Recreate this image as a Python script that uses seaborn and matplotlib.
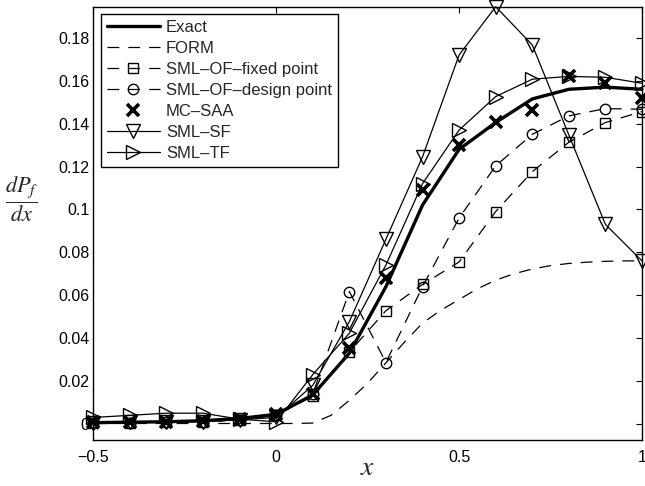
import numpy as np
import pandas as pd
import matplotlib
matplotlib.use("Agg")
import matplotlib.pyplot as plt
import seaborn as sns

# ---- data ----
x_pts = [-0.5, -0.4, -0.3, -0.2, -0.1, 0.0, 0.1, 0.2, 0.3, 0.4, 0.5, 0.6, 0.7, 0.8, 0.9, 1.0]
exact = [0.0006, 0.0008, 0.0010, 0.0015, 0.0025, 0.0045, 0.0135, 0.0330, 0.0640, 0.1020, 0.1280, 0.1405, 0.1515, 0.1560, 0.1570, 0.1560]
of_fixed = [0.0005, 0.0006, 0.0008, 0.0010, 0.0020, 0.0040, 0.0130, 0.0335, 0.0528, 0.0650, 0.0755, 0.0990, 0.1176, 0.1313, 0.1405, 0.1456]
of_design = [0.0005, 0.0006, 0.0008, 0.0010, 0.0020, 0.0040, 0.0140, 0.0617, 0.0286, 0.0640, 0.0960, 0.1203, 0.1350, 0.1436, 0.1470, 0.1467]
mc_saa = [0.0008, 0.0009, 0.0010, 0.0015, 0.0025, 0.0045, 0.0140, 0.0355, 0.0679, 0.1090, 0.1300, 0.1409, 0.1464, 0.1622, 0.1588, 0.1520]
sml_sf = [0.0006, 0.0007, 0.0008, 0.0010, 0.0020, 0.0030, 0.0180, 0.0477, 0.0861, 0.1245, 0.1720, 0.1945, 0.1767, 0.1347, 0.0930, 0.0760]
sml_tf = [0.0030, 0.0040, 0.0050, 0.0050, 0.0022, 0.0010, 0.0230, 0.0423, 0.0741, 0.1120, 0.1370, 0.1526, 0.1607, 0.1620, 0.1616, 0.1588]

x_form = [-0.5, -0.4, -0.3, -0.2, -0.1, 0.0, 0.05, 0.1, 0.15, 0.2, 0.25, 0.3, 0.35, 0.4, 0.45, 0.5,
          0.55, 0.6, 0.65, 0.7, 0.75, 0.8, 0.85, 0.9, 0.95, 1.0]
form = [0.0002, 0.0002, 0.0002, 0.0002, 0.0002, 0.0002, 0.0002, 0.0004, 0.0040, 0.0110, 0.0190, 0.0285,
        0.0380, 0.0470, 0.0530, 0.0580, 0.0630, 0.0670, 0.0700, 0.0722, 0.0738, 0.0748, 0.0754, 0.0758, 0.0760, 0.0760]

x_ticks = [-0.5, 0, 0.5, 1]
x_ticklabels = ["\u22120.5", "0", "0.5", "1"]
y_ticks = [0, 0.02, 0.04, 0.06, 0.08, 0.1, 0.12, 0.14, 0.16, 0.18]
y_ticklabels = ["0", "0.02", "0.04", "0.06", "0.08", "0.1", "0.12", "0.14", "0.16", "0.18"]

# ---- style ----
sns.set_style("white")
plt.rcParams["font.family"] = ["Liberation Sans", "DejaVu Sans"]
plt.rcParams["mathtext.fontset"] = "stix"
plt.rcParams["lines.scale_dashes"] = False

fig = plt.figure(figsize=(6.45, 4.86), dpi=100)
ax = fig.add_axes([93.3 / 645, 46 / 486, (642 - 93.3) / 645, (440 - 6.7) / 486])

dash = (0, (8.5, 6.5))
common = dict(ax=ax, color="k", clip_on=False, errorbar=None, sort=False)

sns.lineplot(x=x_pts, y=exact, lw=2.4, label="Exact", **common)
sns.lineplot(x=x_form, y=form, lw=0.9, linestyle=dash, label="FORM", **common)
sns.lineplot(x=x_pts, y=of_fixed, lw=0.9, linestyle=dash, marker="s", markersize=6.5,
             markerfacecolor="none", markeredgecolor="k", markeredgewidth=1.0,
             label="SML\u2013OF\u2013fixed point", **common)
sns.lineplot(x=x_pts, y=of_design, lw=0.9, linestyle=dash, marker="o", markersize=7.5,
             markerfacecolor="none", markeredgecolor="k", markeredgewidth=1.0,
             label="SML\u2013OF\u2013design point", **common)
sns.lineplot(x=x_pts, y=mc_saa, lw=0, linestyle="none", marker="x", markersize=8.5,
             markeredgecolor="k", markeredgewidth=2.6, label="MC\u2013SAA", **common)
sns.lineplot(x=x_pts, y=sml_sf, lw=0.9, marker="v", markersize=9.5,
             markerfacecolor="none", markeredgecolor="k", markeredgewidth=1.0,
             label="SML\u2013SF", **common)
sns.lineplot(x=x_pts, y=sml_tf, lw=0.9, marker=">", markersize=9.5,
             markerfacecolor="none", markeredgecolor="k", markeredgewidth=1.0,
             label="SML\u2013TF", **common)

ax.set_xlim(-0.5, 1.0)
ax.set_ylim(-0.0075, 0.1945)
ax.set_xticks(x_ticks)
ax.set_xticklabels(x_ticklabels)
ax.set_yticks(y_ticks)
ax.set_yticklabels(y_ticklabels)
ax.tick_params(axis="both", which="both", direction="in", length=4, width=0.8,
               top=True, right=True, labelsize=11.5, colors="k")
ax.tick_params(axis="x", pad=7.5)
ax.tick_params(axis="y", pad=3)
for s in ax.spines.values():
    s.set_color("k")
    s.set_linewidth(1.0)
ax.set_xlabel("")
ax.set_ylabel("")

handles, labels = ax.get_legend_handles_labels()
leg = ax.legend(handles, labels, loc="upper left", fontsize=12, frameon=True, fancybox=False,
                framealpha=1, edgecolor="k", handlelength=3.2, handletextpad=0.35,
                labelspacing=0.36, borderaxespad=0.45, borderpad=0.35, numpoints=1)
leg.get_frame().set_linewidth(1.0)

fig.text(22 / 645, 1 - 199 / 486, r"$\dfrac{dP_f}{dx}$", fontsize=16, ha="center", va="center")
fig.text(368 / 645, 1 - 468 / 486, r"$x$", fontsize=20, ha="center", va="center")

fig.savefig("out.png", dpi=100)
